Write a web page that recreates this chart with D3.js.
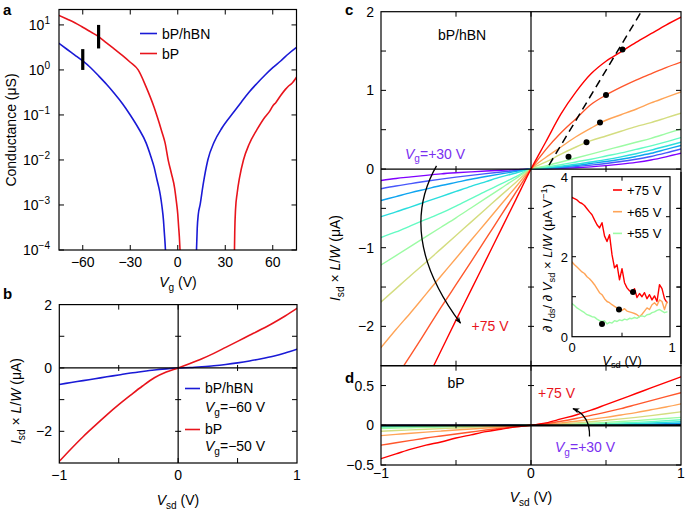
<!DOCTYPE html>
<html><head><meta charset="utf-8">
<script src="https://cdn.jsdelivr.net/npm/d3@7"></script>
<style>body{margin:0;background:#fff} svg text{font-family:"Liberation Sans",Arial,Helvetica,sans-serif}</style>
</head><body><svg id="chart" width="685" height="509"></svg>
<script>
// ================= DATA =================
// Panel a: conductance (µS) vs gate voltage Vg (V)
const aBlueLeftVg=[-75,-70,-65,-60,-55,-50,-45,-40,-35,-30,-25,-20,-17,-15,-13,-12,-11,-10,-9,-8.5,-8,-7.7];
const aBlueLeftG=[3.9,2.88,2.14,1.58,1.12,0.74,0.48,0.30,0.18,0.10,0.052,0.024,0.012,0.0071,0.0035,0.0025,0.00166,0.00095,0.00045,0.00025,0.00014,0.00009];
const aBlueRightVg=[11.8,12.3,13,14.1,16,19,23,28,35,40,45,50,55,60,65,70,75];
const aBlueRightG=[0.00009,0.0003,0.00063,0.001,0.0028,0.01,0.025,0.052,0.112,0.19,0.32,0.5,0.76,1.12,1.58,2.29,3.16];
const aRedLeftVg=[-75,-70,-65,-60,-55,-50,-45,-40,-35,-30,-25,-20,-15,-13,-10,-8,-6,-4,-2,-1,0,0.5,1,1.5];
const aRedLeftG=[16.2,13.5,11.2,8.9,7.0,5.5,4.0,2.9,2.1,1.48,1.0,0.42,0.15,0.092,0.042,0.024,0.0098,0.005,0.0024,0.0013,0.00063,0.00035,0.0002,0.00009];
const aRedRightVg=[35.8,36,36.5,37.5,39,41.5,45,50,55,58,60,62,65,68,70,72,75];
const aRedRightG=[0.00009,0.00025,0.0008,0.0018,0.004,0.01,0.022,0.047,0.089,0.12,0.158,0.19,0.27,0.37,0.44,0.5,0.69];
const aMarkVg=[-60,-50], aMarkLo=[1.0,3.0], aMarkHi=[2.9,10];
const aTicksX=[-60,-30,0,30,60];
const aTicksY=[1e-4,1e-3,1e-2,1e-1,1,10];
const aTickExp=[-4,-3,-2,-1,0,1];

// Panel b: Isd x L/W (µA) vs Vsd (V)
const bVsd=[-1,-0.9,-0.8,-0.7,-0.6,-0.5,-0.4,-0.3,-0.2,-0.1,0,0.1,0.2,0.3,0.4,0.5,0.6,0.7,0.8,0.9,1];
const bBlue=[-0.52,-0.46,-0.40,-0.34,-0.28,-0.22,-0.16,-0.11,-0.065,-0.03,0,0.015,0.04,0.07,0.11,0.16,0.22,0.29,0.37,0.47,0.59];
const bRed=[-2.95,-2.55,-2.17,-1.82,-1.48,-1.16,-0.86,-0.57,-0.31,-0.13,0,0.14,0.29,0.46,0.65,0.84,1.03,1.22,1.42,1.64,1.88];

// Panel c/d: curves for Vg = +30 ... +75 V
const vgList=[30,35,40,45,50,55,60,65,70,75];
const cdVsd=[-1,-0.9,-0.8,-0.7,-0.6,-0.5,-0.4,-0.3,-0.2,-0.1,0,0.1,0.2,0.3,0.4,0.5,0.6,0.7,0.8,0.9,1];
const cVg30=[-0.146,-0.12,-0.10,-0.08,-0.062,-0.048,-0.036,-0.025,-0.016,-0.008,0,0.003,0.008,0.016,0.028,0.043,0.062,0.085,0.115,0.155,0.20];
const cVg35=[-0.25,-0.215,-0.185,-0.155,-0.128,-0.103,-0.08,-0.058,-0.038,-0.019,0,0.006,0.016,0.03,0.05,0.07,0.095,0.125,0.16,0.205,0.255];
const cVg40=[-0.40,-0.35,-0.30,-0.255,-0.21,-0.17,-0.13,-0.095,-0.062,-0.03,0,0.01,0.025,0.045,0.07,0.095,0.125,0.16,0.20,0.25,0.30];
const cVg45=[-0.605,-0.545,-0.48,-0.415,-0.35,-0.285,-0.22,-0.16,-0.10,-0.05,0,0.015,0.035,0.06,0.09,0.12,0.155,0.195,0.24,0.29,0.34];
const cVg50=[-0.87,-0.80,-0.72,-0.64,-0.56,-0.47,-0.375,-0.28,-0.19,-0.095,0,0.025,0.055,0.09,0.125,0.165,0.205,0.25,0.295,0.345,0.40];
const cVg55=[-1.22,-1.10,-0.98,-0.86,-0.74,-0.62,-0.495,-0.37,-0.245,-0.12,0,0.04,0.09,0.14,0.19,0.24,0.29,0.34,0.39,0.45,0.51];
const cVg60=[-1.69,-1.52,-1.35,-1.185,-1.015,-0.845,-0.675,-0.505,-0.335,-0.168,0,0.09,0.19,0.28,0.36,0.42,0.48,0.54,0.59,0.65,0.71];
const cVg65=[-2.27,-2.04,-1.82,-1.59,-1.36,-1.135,-0.905,-0.68,-0.45,-0.225,0,0.15,0.28,0.41,0.52,0.62,0.69,0.76,0.84,0.91,0.98];
const cVg70=[-2.94,-2.65,-2.36,-2.06,-1.76,-1.47,-1.18,-0.885,-0.59,-0.295,0,0.25,0.46,0.64,0.82,0.94,1.04,1.13,1.21,1.29,1.36];
const cVg75=[-3.85,-3.46,-3.08,-2.70,-2.31,-1.92,-1.54,-1.155,-0.77,-0.385,0,0.35,0.70,0.98,1.21,1.37,1.49,1.61,1.72,1.83,1.93];
const cSeries=[cVg30,cVg35,cVg40,cVg45,cVg50,cVg55,cVg60,cVg65,cVg70,cVg75];
const cDotV=[0.61,0.50,0.46,0.37,0.25];
const cDotI=[1.52,0.94,0.59,0.34,0.157];
const cDashV=[0.12,0.735], cDashI=[0.05,2.0];

const dVg30=[-0.002,-0.0018,-0.0016,-0.0014,-0.0012,-0.001,-0.0008,-0.0006,-0.0004,-0.0002,0,0.0002,0.0005,0.0009,0.0014,0.002,0.0026,0.0032,0.0039,0.0046,0.0054];
const dVg35=[-0.004,-0.0036,-0.0032,-0.0028,-0.0024,-0.002,-0.0016,-0.0012,-0.0008,-0.0004,0,0.0004,0.001,0.0018,0.0028,0.004,0.0052,0.0066,0.008,0.0096,0.012];
const dVg40=[-0.008,-0.0072,-0.0064,-0.0056,-0.0048,-0.004,-0.0032,-0.0024,-0.0016,-0.0008,0,0.0008,0.002,0.0035,0.0055,0.0078,0.0103,0.013,0.016,0.02,0.025];
const dVg45=[-0.015,-0.0135,-0.012,-0.0105,-0.009,-0.0075,-0.006,-0.0045,-0.003,-0.0015,0,0.0015,0.0036,0.0062,0.0095,0.013,0.017,0.022,0.028,0.036,0.045];
const dVg50=[-0.025,-0.0225,-0.02,-0.0175,-0.015,-0.0125,-0.01,-0.0075,-0.005,-0.0025,0,0.0025,0.006,0.01,0.015,0.021,0.028,0.036,0.046,0.057,0.07];
const dVg55=[-0.04,-0.035,-0.031,-0.027,-0.022,-0.018,-0.014,-0.01,-0.006,-0.003,0,0.004,0.01,0.017,0.026,0.036,0.047,0.059,0.072,0.086,0.10];
const dVg60=[-0.075,-0.066,-0.058,-0.05,-0.042,-0.034,-0.027,-0.019,-0.012,-0.006,0,0.007,0.017,0.03,0.045,0.062,0.08,0.1,0.122,0.145,0.17];
const dVg65=[-0.13,-0.115,-0.10,-0.086,-0.073,-0.06,-0.047,-0.034,-0.022,-0.01,0,0.012,0.03,0.05,0.075,0.10,0.13,0.16,0.195,0.23,0.27];
const dVg70=[-0.25,-0.22,-0.19,-0.16,-0.135,-0.11,-0.085,-0.06,-0.038,-0.018,0,0.02,0.05,0.085,0.125,0.165,0.21,0.26,0.31,0.36,0.41];
const dVg75=[-0.42,-0.36,-0.30,-0.25,-0.21,-0.16,-0.12,-0.08,-0.05,-0.02,0,0.03,0.08,0.13,0.19,0.26,0.33,0.40,0.47,0.54,0.61];
const dSeries=[dVg30,dVg35,dVg40,dVg45,dVg50,dVg55,dVg60,dVg65,dVg70,dVg75];

// Inset: differential conductance
const insetV=[0,0.025,0.05,0.075,0.1,0.125,0.15,0.175,0.2,0.225,0.25,0.275,0.3,0.325,0.35,0.375,0.4,0.425,0.45,0.475,0.5,0.525,0.55,0.575,0.6,0.625,0.65,0.675,0.7,0.725,0.75,0.775,0.8,0.825,0.85,0.875,0.9,0.925,0.95];
const inset75=[3.48,3.45,3.42,3.36,3.33,3.28,3.20,3.12,3.05,2.92,2.80,2.72,2.85,2.52,2.38,2.55,2.05,1.72,1.80,1.42,1.70,1.35,1.22,1.15,1.10,1.20,0.98,1.08,1.00,1.10,0.95,1.05,0.92,1.02,0.88,1.30,1.20,0.95,0.85];
const inset65=[1.87,1.80,1.74,1.68,1.62,1.58,1.50,1.45,1.38,1.30,1.20,1.10,1.05,0.95,0.88,0.85,0.80,0.76,0.72,0.68,0.66,0.70,0.64,0.62,0.60,0.58,0.55,0.50,0.56,0.64,0.72,0.68,0.80,0.85,0.78,0.92,0.88,0.68,0.87];
const inset55=[0.83,0.78,0.72,0.68,0.64,0.60,0.55,0.53,0.50,0.49,0.44,0.40,0.38,0.40,0.32,0.36,0.34,0.40,0.38,0.42,0.40,0.44,0.42,0.46,0.45,0.48,0.46,0.50,0.52,0.50,0.55,0.56,0.60,0.62,0.66,0.68,0.64,0.60,0.62];
const insetDotV=[0.61,0.47,0.30], insetDotI=[1.12,0.68,0.32];
const insetLegend=["+75 V","+65 V","+55 V"];

// ================= DRAWING =================
const svg=d3.select('#chart');
const MINUS='\u2212';
const fmt=v=>(v<0?MINUS:'')+Math.abs(v);
function rainbow(t){ // gnuplot/matplotlib "rainbow"
  const r=Math.min(1,Math.abs(2*t-0.5)), g=Math.sin(Math.PI*t), b=Math.cos(Math.PI*t/2);
  return d3.rgb(r*255,g*255,b*255).formatHex();
}
const vgColor=vg=>rainbow((vg-30)/45);

function rich(g,x,y,parts,o={}){
  const size=o.size||14;
  const t=g.append('text').attr('x',x).attr('y',y).attr('font-size',size)
    .attr('text-anchor',o.anchor||'start').attr('fill',o.fill||'#000');
  if(o.rotate) t.attr('transform',`rotate(${o.rotate},${x},${y})`);
  if(o.weight) t.attr('font-weight',o.weight);
  let shift=0;
  parts.forEach(p=>{
    const [s,type]=typeof p==='string'?[p,'n']:p;
    const ts=t.append('tspan').text(s);
    if(type==='i') ts.attr('font-style','italic');
    if(type==='sub'){ts.attr('font-size',size*0.72).attr('dy',size*0.25-shift);shift=size*0.25;}
    else if(type==='sup'){ts.attr('font-size',size*0.72).attr('dy',-size*0.4-shift);shift=-size*0.4;}
    else if(shift){ts.attr('dy',-shift);shift=0;}
  });
  return t;
}

function frame(g,xs,ys,xt,yt,len,opt={}){
  const [x0,x1]=xs.range(); const [y0,y1]=ys.range(); // y0 bottom
  const sw=opt.sw||1.2;
  xt.forEach(v=>{const X=xs(v);
    g.append('line').attr('x1',X).attr('x2',X).attr('y1',y0).attr('y2',y0-len).attr('stroke','#000').attr('stroke-width',1);
    g.append('line').attr('x1',X).attr('x2',X).attr('y1',y1).attr('y2',y1+len).attr('stroke','#000').attr('stroke-width',1);
  });
  yt.forEach(v=>{const Y=ys(v);
    g.append('line').attr('x1',x0).attr('x2',x0+len).attr('y1',Y).attr('y2',Y).attr('stroke','#000').attr('stroke-width',1);
    g.append('line').attr('x1',x1).attr('x2',x1-len).attr('y1',Y).attr('y2',Y).attr('stroke','#000').attr('stroke-width',1);
  });
  g.append('rect').attr('x',x0).attr('y',y1).attr('width',x1-x0).attr('height',y0-y1)
    .attr('fill','none').attr('stroke','#000').attr('stroke-width',sw);
}
function zeroLines(g,xs,ys,xt,yt,len,sw){
  const [x0,x1]=xs.range(); const [y0,y1]=ys.range();
  g.append('line').attr('x1',xs(0)).attr('x2',xs(0)).attr('y1',y0).attr('y2',y1).attr('stroke','#000').attr('stroke-width',1.2);
  g.append('line').attr('x1',x0).attr('x2',x1).attr('y1',ys(0)).attr('y2',ys(0)).attr('stroke','#000').attr('stroke-width',sw||1.2);
  yt.forEach(v=>{ if(v===0)return; g.append('line').attr('x1',xs(0)-len).attr('x2',xs(0)+len).attr('y1',ys(v)).attr('y2',ys(v)).attr('stroke','#000');});
  xt.forEach(v=>{ if(v===0)return; g.append('line').attr('x1',xs(v)).attr('x2',xs(v)).attr('y1',ys(0)-len).attr('y2',ys(0)+len).attr('stroke','#000');});
}
let clipId=0;
function clip(g,xs,ys){
  const id='clip'+(clipId++);
  const [x0,x1]=xs.range(); const [y0,y1]=ys.range();
  svg.append('clipPath').attr('id',id).append('rect').attr('x',x0).attr('y',y1).attr('width',x1-x0).attr('height',y0-y1);
  return g.append('g').attr('clip-path',`url(#${id})`);
}
function plotLine(g,xs,ys,X,Y,color,w,curve){
  const line=d3.line().x((d,i)=>xs(X[i])).y(d=>ys(d)).curve(curve||d3.curveLinear);
  g.append('path').datum(Y).attr('d',line).attr('fill','none').attr('stroke',color)
   .attr('stroke-width',w).attr('stroke-linejoin','round').attr('stroke-linecap','round');
}
const BLUE='#1a1ad6', RED='#e8141c';

// -------- Panel a --------
{
  const xs=d3.scaleLinear().domain([-75,75]).range([59,296.5]);
  const ys=d3.scaleLog().domain([1e-4,22]).range([250,9.5]);
  const g=svg.append('g');
  const c=clip(g,xs,ys);
  plotLine(c,xs,ys,aBlueLeftVg,aBlueLeftG,BLUE,1.6,d3.curveMonotoneX);
  plotLine(c,xs,ys,aBlueRightVg,aBlueRightG,BLUE,1.6,d3.curveMonotoneX);
  plotLine(c,xs,ys,aRedLeftVg,aRedLeftG,RED,1.6,d3.curveMonotoneX);
  plotLine(c,xs,ys,aRedRightVg,aRedRightG,RED,1.6,d3.curveMonotoneX);
  aMarkVg.forEach((v,i)=>g.append('line').attr('x1',xs(v)).attr('x2',xs(v)).attr('y1',ys(aMarkLo[i])).attr('y2',ys(aMarkHi[i])).attr('stroke','#000').attr('stroke-width',3.2));
  frame(g,xs,ys,aTicksX,aTicksY,5);
  aTicksX.forEach(v=>g.append('text').attr('x',xs(v)).attr('y',267).attr('text-anchor','middle').attr('font-size',14).text(fmt(v)));
  aTicksY.forEach((v,i)=>rich(g,50,ys(v)+5,['10',[fmt(aTickExp[i]),'sup']],{anchor:'end'}));
  rich(g,16,130,['Conductance (\u03bcS)'],{anchor:'middle',rotate:-90});
  rich(g,178,287,[['V','i'],['g','sub'],' (V)'],{anchor:'middle'});
  // legend
  g.append('line').attr('x1',140).attr('x2',157).attr('y1',33.5).attr('y2',33.5).attr('stroke',BLUE).attr('stroke-width',1.6);
  rich(g,162,38.5,['bP/hBN']);
  g.append('line').attr('x1',140).attr('x2',157).attr('y1',53.5).attr('y2',53.5).attr('stroke',RED).attr('stroke-width',1.6);
  rich(g,162,58.5,['bP']);
  rich(svg,3,15,['a'],{weight:'bold',size:15});
}

// -------- Panel b --------
{
  const xs=d3.scaleLinear().domain([-1,1]).range([59.3,297]);
  const ys=d3.scaleLinear().domain([-3,2]).range([463,304.6]);
  const g=svg.append('g');
  const c=clip(g,xs,ys);
  zeroLines(g,xs,ys,[-0.5,0.5],[-2,-1,1],3,1.2);
  plotLine(c,xs,ys,bVsd,bBlue,BLUE,1.6,d3.curveMonotoneX);
  plotLine(c,xs,ys,bVsd,bRed,RED,1.6,d3.curveMonotoneX);
  frame(g,xs,ys,[-0.5,0,0.5],[-2,-1,0,1],5);
  [-1,0,1].forEach(v=>g.append('text').attr('x',xs(v)).attr('y',480).attr('text-anchor','middle').attr('font-size',14).text(fmt(v)));
  [2,0,-2].forEach(v=>g.append('text').attr('x',52).attr('y',ys(v)+5).attr('text-anchor','end').attr('font-size',14).text(fmt(v)));
  rich(g,21,401,[['I','i'],['sd','sub'],' \u00d7 ',['L','i'],'/',['W','i'],' (\u03bcA)'],{anchor:'middle',rotate:-90});
  rich(g,178,505,[['V','i'],['sd','sub'],' (V)'],{anchor:'middle'});
  g.append('line').attr('x1',185).attr('x2',200).attr('y1',388.5).attr('y2',388.5).attr('stroke',BLUE).attr('stroke-width',1.6);
  rich(g,205,393,['bP/hBN']);
  rich(g,205,412,[['V','i'],['g','sub'],'='+MINUS+'60 V']);
  g.append('line').attr('x1',185).attr('x2',200).attr('y1',429.5).attr('y2',429.5).attr('stroke',RED).attr('stroke-width',1.6);
  rich(g,205,434,['bP']);
  rich(g,205,451,[['V','i'],['g','sub'],'='+MINUS+'50 V']);
  rich(svg,3,299,['b'],{weight:'bold',size:15});
}

// -------- Panel c --------
const xCD=d3.scaleLinear().domain([-1,1]).range([381,681]);
{
  const xs=xCD;
  const ys=d3.scaleLinear().domain([-2.5,2]).range([365.7,11.7]);
  const g=svg.append('g');
  const c=clip(g,xs,ys);
  cSeries.forEach((s,i)=>plotLine(c,xs,ys,cdVsd,s,vgColor(vgList[i]),1.4,d3.curveMonotoneX));
  zeroLines(g,xs,ys,[-0.5,0.5],[-2,-1.5,-1,-0.5,0.5,1,1.5],3,1.2);
  // dashed guide
  c.append('line').attr('x1',xs(cDashV[0])).attr('y1',ys(cDashI[0])).attr('x2',xs(cDashV[1])).attr('y2',ys(cDashI[1]))
   .attr('stroke','#000').attr('stroke-width',1.5).attr('stroke-dasharray','8,5');
  cDotV.forEach((v,i)=>c.append('circle').attr('cx',xs(v)).attr('cy',ys(cDotI[i])).attr('r',3).attr('fill','#000'));
  frame(g,xs,ys,[-0.5,0,0.5],[-2,-1.5,-1,-0.5,0,0.5,1,1.5],5);
  [2,1,0,-1,-2].forEach(v=>g.append('text').attr('x',374).attr('y',ys(v)+5).attr('text-anchor','end').attr('font-size',14).text(fmt(v)));
  rich(g,340,258,[['I','i'],['sd','sub'],' \u00d7 ',['L','i'],'/',['W','i'],' (\u03bcA)'],{anchor:'middle',rotate:-90});
  rich(g,462,40,['bP/hBN'],{anchor:'middle'});
  rich(g,405,158.5,[['V','i'],['g','sub'],'=+30 V'],{fill:'#7a2ff0'});
  rich(g,471.5,331,['+75 V'],{fill:RED});
  // arrow
  svg.append('defs').html('<marker id="ah" viewBox="0 0 10 10" refX="9" refY="5" markerWidth="7" markerHeight="7" orient="auto" markerUnits="userSpaceOnUse"><path d="M0,1 L10,5 L0,9 L3,5 z" fill="#000"/></marker>');
  const p=d3.path(); p.moveTo(xs(-0.63),ys(0.04)); p.quadraticCurveTo(xs(-0.90),ys(-0.86),xs(-0.47),ys(-1.96));
  g.append('path').attr('d',p.toString()).attr('fill','none').attr('stroke','#000').attr('stroke-width',1.3).attr('marker-end','url(#ah)');
  rich(svg,345,15,['c'],{weight:'bold',size:15});
}

// -------- Panel d --------
{
  const xs=xCD;
  const ys=d3.scaleLinear().domain([-0.5,0.75]).range([465,365.7]);
  const g=svg.append('g');
  const c=clip(g,xs,ys);
  dSeries.forEach((s,i)=>plotLine(c,xs,ys,cdVsd,s,vgColor(vgList[i]),1.4,d3.curveMonotoneX));
  zeroLines(g,xs,ys,[-0.5,0.5],[0.5],3,2.2);
  frame(g,xs,ys,[-0.5,0,0.5],[-0.5,0,0.5],5);
  [0.5,0,-0.5].forEach(v=>g.append('text').attr('x',374).attr('y',ys(v)+5).attr('text-anchor','end').attr('font-size',14).text(fmt(v.toFixed(1))));
  [-1,0,1].forEach(v=>g.append('text').attr('x',xs(v)).attr('y',478).attr('text-anchor','middle').attr('font-size',14).text(fmt(v)));
  rich(g,531,502,[['V','i'],['sd','sub'],' (V)'],{anchor:'middle'});
  rich(g,456,388,['bP'],{anchor:'middle'});
  rich(g,538,397.5,['+75 V'],{fill:RED});
  rich(g,555,452,[['V','i'],['g','sub'],'=+30 V'],{fill:'#7a2ff0'});
  const p=d3.path(); p.moveTo(xs(0.39),ys(-0.14)); p.quadraticCurveTo(xs(0.395),ys(0.12),xs(0.28),ys(0.21));
  g.append('path').attr('d',p.toString()).attr('fill','none').attr('stroke','#000').attr('stroke-width',1.3).attr('marker-end','url(#ah)');
  rich(svg,345,383,['d'],{weight:'bold',size:15});
}

// -------- Inset --------
{
  const xs=d3.scaleLinear().domain([0,0.98]).range([572,670]);
  const ys=d3.scaleLinear().domain([0,4]).range([336.7,176.7]);
  const g=svg.append('g');
  g.append('rect').attr('x',560).attr('y',172).attr('width',117).attr('height',192).attr('fill','#fff');
  const yC=d3.scaleLinear().domain([-2.5,2]).range([365.7,11.7]);
  g.append('line').attr('x1',681).attr('x2',681).attr('y1',172).attr('y2',364).attr('stroke','#000').attr('stroke-width',1.2);
  [-2,-1.5,-1,-0.5].forEach(v=>g.append('line').attr('x1',681).attr('x2',676).attr('y1',yC(v)).attr('y2',yC(v)).attr('stroke','#000'));
  const c=clip(g,xs,ys);
  const cols=[vgColor(75),vgColor(65),vgColor(55)];
  [inset75,inset65,inset55].forEach((s,i)=>plotLine(c,xs,ys,insetV,s,cols[i],1.4));
  insetDotV.forEach((v,i)=>c.append('circle').attr('cx',xs(v)).attr('cy',ys(insetDotI[i])).attr('r',3).attr('fill','#000'));
  frame(g,xs,ys,[0.5],[1,2,3],4);
  [4,2,0].forEach(v=>g.append('text').attr('x',568).attr('y',ys(v)+5).attr('text-anchor','end').attr('font-size',13).text(v));
  [0,1].forEach(v=>g.append('text').attr('x',xs(v)).attr('y',352).attr('text-anchor','middle').attr('font-size',13).text(v));
  rich(g,622,365,[['V','i'],['sd','sub'],' (V)'],{anchor:'middle',size:13});
  rich(g,552,258,['\u2202 ',['I','i'],['ds','sub'],'/ \u2202 ',['V','i'],['sd','sub'],' \u00d7 ',['L','i'],'/',['W','i'],' (\u03bcA V',[MINUS+'1','sup'],')'],{anchor:'middle',rotate:-90,size:13});
  insetLegend.forEach((t,i)=>{
    const y=190+i*21.7;
    g.append('line').attr('x1',613).attr('x2',622).attr('y1',y).attr('y2',y).attr('stroke',cols[i]).attr('stroke-width',1.6);
    rich(g,627,y+5,[t],{size:13});
  });
}
</script></body></html>
